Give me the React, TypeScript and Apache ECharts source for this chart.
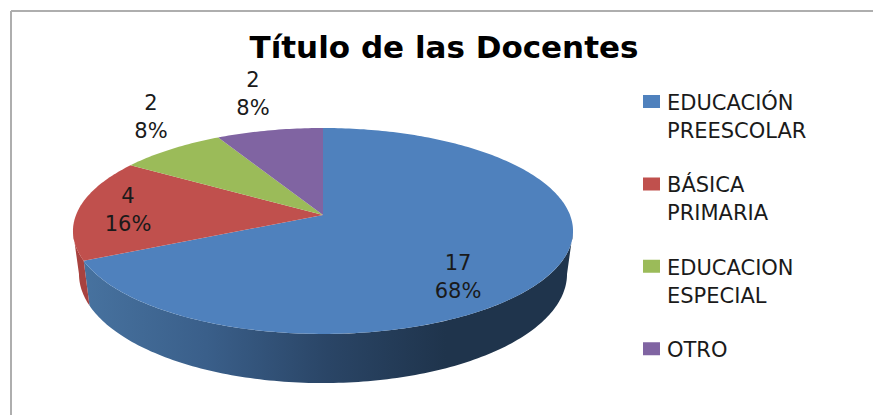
import React, { useEffect, useRef } from "react";
import * as echarts from "echarts";

const TITLE = "Título de las Docentes";
const categories = ["EDUCACIÓN PREESCOLAR", "BÁSICA PRIMARIA", "EDUCACION ESPECIAL", "OTRO"];
const legendLabels = ["EDUCACIÓN\nPREESCOLAR", "BÁSICA\nPRIMARIA", "EDUCACION\nESPECIAL", "OTRO\n "];
const values = [17, 4, 2, 2];
const colors = ["#4f81bd", "#c0504d", "#9bbb59", "#8064a2"];
const percents = ["68%", "16%", "8%", "8%"];

// Layout of the tilted pie (a perspective projection of a circle)
const CX = 323, CY = 215, AX = 247, AY = 100.5, K = 0.155;
const LABEL_POS = [[458, 277], [128, 210], [151, 117], [253, 94]];
const FONT = "'DejaVu Sans'";

const total = values.reduce((a, b) => a + b, 0);
const project = (deg: number): [number, number] => {
  const t = (deg * Math.PI) / 180;
  const x = Math.sin(t), y = Math.cos(t);
  const d = 1 + K * y;
  return [CX + (AX * x) / d, CY - (AY * y) / d];
};
const lower = ([x, y]: [number, number]): [number, number] => [CX + (x - CX) * 0.976, CY + 42 + (y - CY) * 1.06];
const arc = (a: number, b: number) => {
  const pts: [number, number][] = [];
  const n = Math.max(2, Math.ceil(Math.abs(b - a)));
  for (let i = 0; i <= n; i++) pts.push(project(a + ((b - a) * i) / n));
  return pts;
};

const sideFill = (i: number): any => {
  if (i === 0) {
    return new echarts.graphic.LinearGradient(0, 0, 1, 0, [
      { offset: 0, color: "#47729f" },
      { offset: 0.25, color: "#3a5f8a" },
      { offset: 0.5, color: "#2a4566" },
      { offset: 0.74, color: "#1f344c" },
      { offset: 1, color: "#1f344c" },
    ]);
  }
  return "#a8423f";
};

const renderSlice = (index: number) => (_params: any, api: any) => {
  const v = api.value(0);
  const before = values.slice(0, index).reduce((a, b) => a + b, 0);
  const a0 = (before / total) * 360;
  const a1 = a0 + (v / total) * 360;
  const children: any[] = [];
  const s0 = Math.max(a0, 99), s1 = Math.min(a1, 261);
  if (s1 > s0) {
    const top = arc(s0, s1);
    const bottom = top.map(lower).reverse();
    children.push({
      type: "polygon",
      shape: { points: [...top, ...bottom] },
      style: { fill: sideFill(index), stroke: null },
    });
  }
  children.push({
    type: "polygon",
    shape: { points: [[CX, CY], ...arc(a0, a1)] },
    style: { fill: colors[index], stroke: null },
  });
  children.push({
    type: "text",
    z2: 10,
    style: {
      text: `${v}\n${percents[index]}`,
      x: LABEL_POS[index][0],
      y: LABEL_POS[index][1],
      align: "center",
      verticalAlign: "middle",
      fontFamily: FONT,
      fontSize: 21,
      lineHeight: 28,
      fill: "#1a1a1a",
    },
  });
  return { type: "group", children };
};

const ICON = "path://M0 0H17V13H0ZM0 44H19V44H0Z";

export default function App() {
  const ref = useRef<HTMLDivElement>(null);
  useEffect(() => {
    const chart = echarts.init(ref.current!, undefined, { renderer: "svg" });
    chart.setOption({
      animation: false,
      backgroundColor: "#ffffff",
      title: {
        text: TITLE,
        left: 439,
        top: 26,
        textAlign: "center",
        textStyle: { fontFamily: FONT, fontSize: 31, fontWeight: "bold", color: "#000000" },
      },
      legend: {
        orient: "vertical",
        left: 643,
        top: 89,
        padding: 0,
        itemGap: 26.4,
        itemWidth: 19,
        itemHeight: 44,
        selectedMode: false,
        data: categories.map((name) => ({ name, icon: ICON })),
        formatter: (name: string) => legendLabels[categories.indexOf(name)],
        textStyle: { fontFamily: FONT, fontSize: 21, lineHeight: 28, color: "#1a1a1a" },
      },
      graphic: [
        { type: "line", shape: { x1: 11, y1: 11, x2: 873, y2: 11 }, style: { stroke: "#aeaeae", lineWidth: 2 } },
        { type: "line", shape: { x1: 11, y1: 11, x2: 11, y2: 415 }, style: { stroke: "#aeaeae", lineWidth: 2 } },
      ],
      series: categories.map((name, i) => ({
        type: "custom",
        name,
        coordinateSystem: "none",
        silent: true,
        itemStyle: { color: colors[i] },
        data: [[values[i]]],
        renderItem: renderSlice(i),
      })),
    });
    return () => chart.dispose();
  }, []);
  return <div ref={ref} style={{ position: "fixed", left: 0, top: 0, width: 873, height: 415 }} />;
}
